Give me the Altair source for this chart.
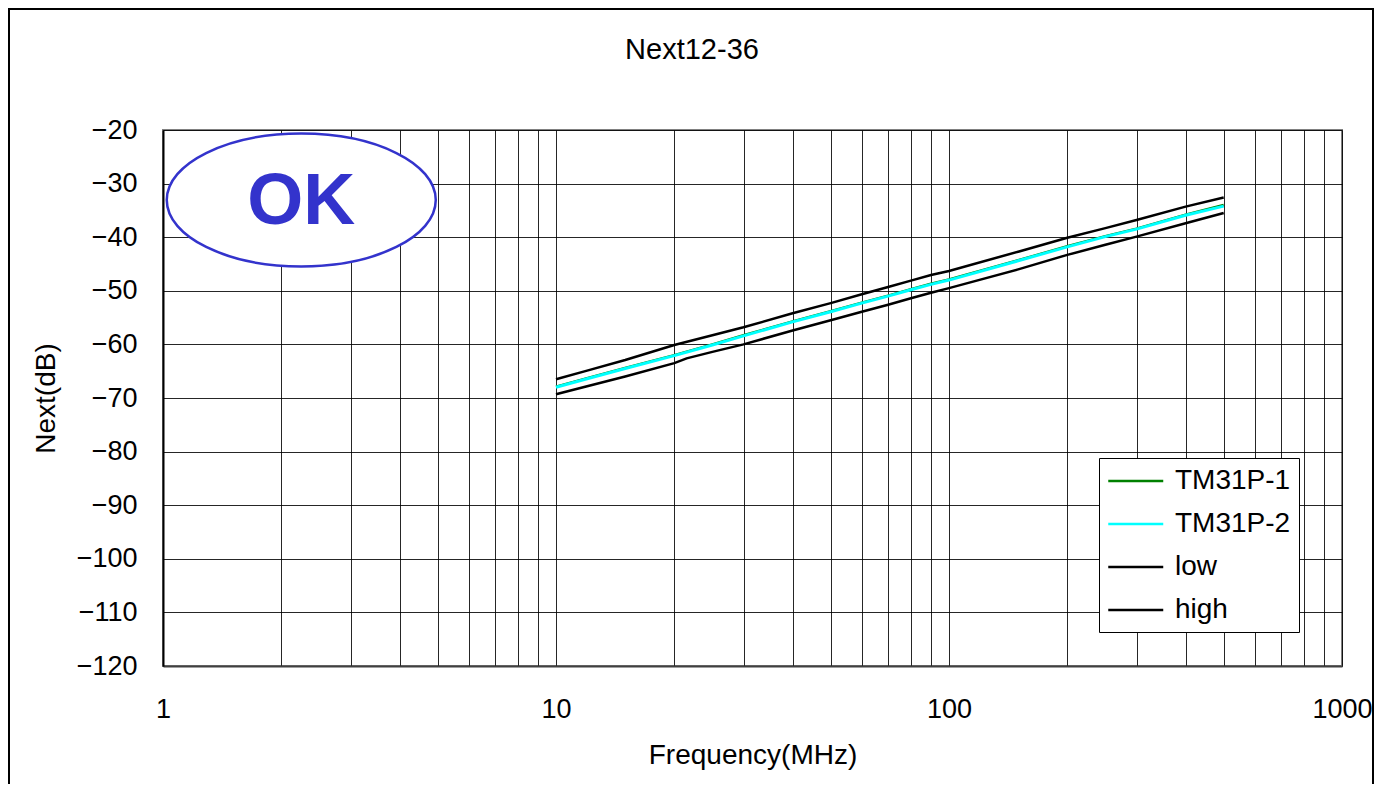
import altair as alt
import pandas as pd

# ---- data ----
freq_main = [10, 12, 15, 20, 25, 30, 40, 50, 60, 70, 80, 90, 100, 150, 200, 250, 300, 400, 500]
tm31p_1 = [-67.9, -66.3, -64.4, -62.0, -60.0, -58.3, -55.7, -53.8, -52.2, -50.9, -49.7, -48.7,
           -47.9, -44.3, -41.7, -39.8, -38.4, -35.8, -34.0]
tm31p_2 = [-68.0, -66.4, -64.5, -62.1, -60.1, -58.4, -55.8, -53.9, -52.3, -51.0, -49.8, -48.8,
           -48.0, -44.4, -41.8, -39.9, -38.5, -35.9, -34.2]
high_limit = [-66.5, -64.9, -62.9, -60.1, -58.3, -56.8, -54.2, -52.3, -50.65, -49.3, -48.1, -47.05,
              -46.3, -42.7, -40.1, -38.3, -36.8, -34.3, -32.6]
freq_low = [10, 12, 15, 20, 21.5, 25, 30, 40, 50, 60, 70, 80, 90, 100, 150, 200, 250, 300, 400, 500]
low_limit = [-69.3, -67.8, -66.0, -63.5, -62.6, -61.4, -60.0, -57.4, -55.5, -53.9, -52.6, -51.4,
             -50.35, -49.5, -46.0, -43.3, -41.4, -39.9, -37.4, -35.5]

series_names = ["TM31P-1", "TM31P-2", "low", "high"]
series_colors = ["#008000", "#00FFFF", "#000000", "#000000"]

x_grid_values = [1, 2, 3, 4, 5, 6, 7, 8, 9, 10, 20, 30, 40, 50, 60, 70, 80, 90, 100,
                 200, 300, 400, 500, 600, 700, 800, 900, 1000]
y_values = [-120, -110, -100, -90, -80, -70, -60, -50, -40, -30, -20]

chart_title = "Next12-36"
badge_text = "OK"
badge_freq = [2.248]
badge_value = [-33.06]

rows = []
for f, v in zip(freq_main, tm31p_1):
    rows.append({"series": "TM31P-1", "freq": f, "value": v})
for f, v in zip(freq_main, tm31p_2):
    rows.append({"series": "TM31P-2", "freq": f, "value": v})
for f, v in zip(freq_low, low_limit):
    rows.append({"series": "low", "freq": f, "value": v})
for f, v in zip(freq_main, high_limit):
    rows.append({"series": "high", "freq": f, "value": v})
df = pd.DataFrame(rows)

FONT = "Liberation Sans"
BLUE = "#3333CC"

x_scale = alt.Scale(type="log", domain=[1, 1000])
y_scale = alt.Scale(domain=[-120, -20])
color_scale = alt.Scale(domain=series_names, range=series_colors)

x_axis = alt.Axis(
    values=x_grid_values,
    format="d",
    labelExpr="datum.value == 1 || datum.value == 10 || datum.value == 100 || datum.value == 1000 ? datum.label : ''",
    labelOverlap=False,
    labelFlush=False,
    labelPadding=30,
    title="Frequency(MHz)",
    titleY=89,
    titleBaseline="middle",
    domainColor="#404040",
    domainWidth=2,
)
y_axis = alt.Axis(
    values=y_values,
    labelPadding=26,
    title="Next(dB)",
    titleAngle=270,
    titleX=-117,
    titleY=268,
    titleAlign="center",
    titleBaseline="middle",
    domainColor="#000000",
    domainWidth=2,
)
legend = alt.Legend(
    title=None,
    orient="none",
    legendX=936,
    legendY=328,
    fillColor="white",
    strokeColor="black",
    padding=8,
    symbolType="M-1,0H3",
    symbolSize=756,
    symbolStrokeWidth=2.5,
    labelFontSize=28,
    labelFont=FONT,
    labelColor="black",
    labelOffset=38,
    rowPadding=14,
    cornerRadius=0,
)

base = alt.Chart(df)


def series_layer(name, width):
    return base.transform_filter(alt.datum.series == name).mark_line(strokeWidth=width).encode(
        x=alt.X("freq:Q", scale=x_scale, axis=x_axis),
        y=alt.Y("value:Q", scale=y_scale, axis=y_axis),
        color=alt.Color("series:N", scale=color_scale, legend=legend),
    )


layers = [
    series_layer("low", 2.5),
    series_layer("high", 2.5),
    series_layer("TM31P-1", 2.5),
    series_layer("TM31P-2", 3),
]

badge_df = pd.DataFrame({"freq": badge_freq, "value": badge_value, "label": [badge_text]})
ellipse = alt.Chart(badge_df).mark_point(
    shape="M-1,0A1,0.494,0,1,1,1,0A1,0.494,0,1,1,-1,0Z",
    size=269 * 269,
    fill="white",
    stroke=BLUE,
    strokeWidth=2.5,
    opacity=1,
    fillOpacity=1,
).encode(
    x=alt.X("freq:Q", scale=x_scale),
    y=alt.Y("value:Q", scale=y_scale),
)
badge = alt.Chart(badge_df).mark_text(
    font=FONT, fontSize=72, fontWeight="bold", color=BLUE, align="center", baseline="middle", dy=2
).encode(
    x=alt.X("freq:Q", scale=x_scale),
    y=alt.Y("value:Q", scale=y_scale),
    text="label:N",
)

title_df = pd.DataFrame({"t": [chart_title]})
title_text = alt.Chart(title_df).mark_text(
    font=FONT, fontSize=29, color="black", align="center", baseline="middle"
).encode(x=alt.value(529), y=alt.value(-80), text="t:N")

frame = alt.Chart(title_df).mark_rect(filled=False, stroke="black", strokeWidth=2).encode(
    x=alt.value(-154), x2=alt.value(1210), y=alt.value(-121), y2=alt.value(700)
)

chart = alt.layer(*layers, ellipse, badge, title_text, frame).properties(
    width=1179,
    height=536,
    padding={"left": 155, "top": 122, "right": 32, "bottom": 118},
    autosize=alt.AutoSizeParams(type="none"),
    background="white",
).configure_view(
    stroke="#808080", strokeWidth=2
).configure_axis(
    grid=True,
    gridColor="#000000",
    gridWidth=1,
    gridOpacity=0.85,
    ticks=False,
    tickSize=0,
    labelFont=FONT,
    labelFontSize=27,
    labelColor="black",
    titleFont=FONT,
    titleFontSize=28,
    titleFontWeight="normal",
    titleColor="black",
)

chart.save("out.html", embed_options={"renderer": "svg", "actions": False})
